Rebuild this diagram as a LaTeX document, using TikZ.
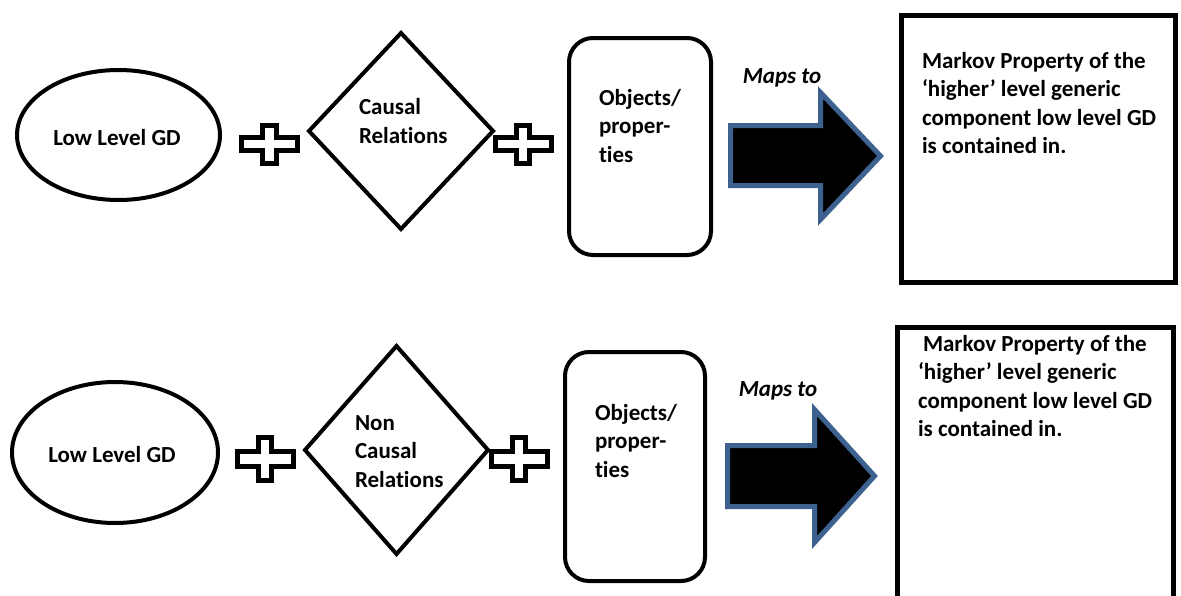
\documentclass[tikz,border=0pt]{standalone}
\usepackage{fontspec}
\setmainfont{Carlito}[Ligatures=NoCommon]
\usetikzlibrary{shapes.geometric}
\definecolor{arrowedge}{HTML}{3E6290}

\tikzset{
  x=1pt, y=-1pt,
  every node/.style={inner sep=0pt, outer sep=0pt,
    font=\bfseries\fontsize{23}{28.5}\selectfont},
  label text/.style={align=left, anchor=west},
  oval/.style={ellipse, draw, line width=4pt},
  decision/.style={diamond, draw, line width=4pt},
  roundbox/.style={rectangle, rounded corners=24pt, draw, line width=4pt},
  targetbox/.style={rectangle, draw, line width=5pt},
  maps label/.style={font=\bfseries\itshape\fontsize{23}{28.5}\selectfont},
  blockarrow/.style={fill=black, draw=arrowedge, line width=5pt, line join=miter},
  pics/plussign/.style={code={
    \draw[line width=5pt, line join=miter]
      (-28,-6.75) -- (-6.75,-6.75) -- (-6.75,-19) -- (6.75,-19) -- (6.75,-6.75)
      -- (28,-6.75) -- (28,6.75) -- (6.75,6.75) -- (6.75,19) -- (-6.75,19)
      -- (-6.75,6.75) -- (-28,6.75) -- cycle;
  }},
}

\begin{document}
\begin{tikzpicture}
  \useasboundingbox (0,0) rectangle (1181,595);
  \clip (0,0) rectangle (1181,595);

  % ---------- first row ----------
  \node[oval, minimum width=203pt, minimum height=130pt] (ell1) at (118.5,135) {};
  \node (ell1t) at (117,138) {Low Level GD};

  \pic (plusA1) at (269.5,144) {plussign};

  \node[decision, minimum width=184pt, minimum height=196pt] (dia1) at (401,131) {};
  \node[label text] (dia1t) at (359,121) {Causal\\Relations};

  \pic (plusB1) at (523,144) {plussign};

  \node[roundbox, minimum width=142pt, minimum height=217pt] (obj1) at (640,146.5) {};
  \node[label text] (obj1t) at (599,126) {Objects/\\proper-\\ties};

  \node[maps label] (maps1) at (782,78) {Maps to};
  \draw[blockarrow] (730.5,125.5) -- (820.5,125.5) -- (820.5,92.5) -- (880.5,156)
    -- (820.5,219.5) -- (820.5,185.5) -- (730.5,185.5) -- cycle;

  \node[targetbox, minimum width=274.5pt, minimum height=267pt] (mk1) at (1038.25,149) {};
  \node[label text] (mk1t) at (922,103) {Markov Property of the\\%
    ‘higher’ level generic\\component low level GD\\is contained in.};

  % ---------- second row ----------
  \node[oval, minimum width=206pt, minimum height=141pt] (ell2) at (115,452.5) {};
  \node (ell2t) at (112,455) {Low Level GD};

  \pic[yscale=1.12] (plusA2) at (265,459) {plussign};

  \node[decision, minimum width=183pt, minimum height=208pt] (dia2) at (396.5,450) {};
  \node[label text] (dia2t) at (355,451.5) {Non\\Causal\\Relations};

  \pic[yscale=1.12] (plusB2) at (519,459) {plussign};

  \node[roundbox, minimum width=140pt, minimum height=229pt] (obj2) at (635,466.5) {};
  \node[label text] (obj2t) at (595,441) {Objects/\\proper-\\ties};

  \node[maps label] (maps2) at (778,391) {Maps to};
  \draw[blockarrow] (727.5,445.5) -- (814.5,445.5) -- (814.5,409.5) -- (874.5,476)
    -- (814.5,542.5) -- (814.5,506.5) -- (727.5,506.5) -- cycle;

  \node[targetbox, minimum width=276.5pt, minimum height=312.5pt] (mk2) at (1035.25,483.75) {};
  \node[label text] (mk2t) at (918,386) {\hspace*{5pt}Markov Property of the\\%
    ‘higher’ level generic\\component low level GD\\is contained in.};
\end{tikzpicture}
\end{document}
